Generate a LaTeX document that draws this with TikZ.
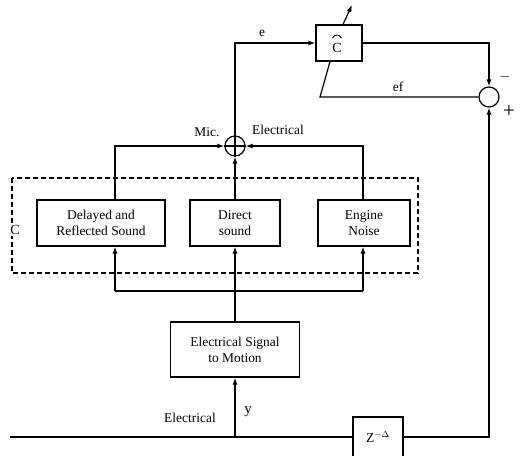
\documentclass[tikz,border=0pt]{standalone}
\usepackage{fontspec}
\setmainfont{Liberation Serif}
\usetikzlibrary{arrows.meta,calc}
\begin{document}
\begin{tikzpicture}[x=1bp,y=-1bp,line width=1.2bp,
  blk/.style={draw,rectangle,align=center,inner sep=0pt,font=\fontsize{13.5}{16}\selectfont},
  sumc/.style={draw,circle,minimum size=20bp,inner sep=0pt},
  lbl/.style={font=\fontsize{13.5}{15}\selectfont,inner sep=1pt},
  arr/.style={-{Latex[length=7bp,width=5bp]}}]
\useasboundingbox (0,0) rectangle (525,456);
% dashed plant box
\draw[dashed,dash pattern=on 5bp off 3bp] (12,178) rectangle (418,273);
\node[lbl,fill=white,font=\fontsize{14}{16}\selectfont] (clab) at (15,230) {C};
% blocks
\node[blk,minimum width=128bp,minimum height=46bp] (delay) at (101,223) {Delayed and\\Reflected Sound};
\node[blk,minimum width=90bp,minimum height=46bp] (direct) at (235,223) {Direct\\sound};
\node[blk,minimum width=92bp,minimum height=46bp] (engine) at (364,223) {Engine\\Noise};
\node[blk,minimum width=129bp,minimum height=55bp] (sig) at (235,349.5) {Electrical Signal\\to Motion};
\node[blk,minimum width=46bp,minimum height=36bp] (chat) at (339,43) {};
\node[lbl,font=\fontsize{14}{16}\selectfont] (chatC) at (337,48) {C};
\draw[line width=0.9bp] (332.5,38) .. controls (334.5,34) and (339.5,34) .. (341.5,38);
\node[blk,minimum width=50bp,minimum height=40bp] (zbox) at (378,437) {};
\node[lbl,font=\fontsize{13.5}{16}\selectfont] (zlab) at (378,437) {Z\textsuperscript{$-\Delta$}};
% summing junctions
\node[sumc] (s1) at (235,146) {};
\draw (s1.north) -- (s1.south) (s1.west) -- (s1.east);
\node[sumc] (s2) at (489,97) {};
% coordinates
\coordinate (tapL) at (115,291);
\coordinate (tapR) at (363,291);
\coordinate (inL) at (10,437);
\coordinate (efk) at (320,97);
\coordinate (adj) at (352,5);
% connectors into sum 1
\draw[arr] (tapL |- delay.north) |- (s1.west);
\draw[arr] (tapR |- engine.north) |- (s1.east);
\draw[arr] (direct.north) -- (s1.south);
% distribution bus
\draw (tapL) -- (tapR);
\draw[arr] (tapL) -- (tapL |- delay.south);
\draw[arr] (tapR) -- (tapR |- engine.south);
\draw[arr] (sig.north) -- (direct.south);
% upper loop
\draw[arr] (s1.north) |- (chat.west);
\draw[arr] (chat.east) -| (s2.north);
\draw (s2.west) -- (efk) -- ([xshift=-9bp]chat.south);
\draw[arr] ([xshift=4bp]chat.north) -- (adj);
% bottom
\draw (inL) -- (zbox.west);
\draw[arr] (inL -| sig.south) -- (sig.south);
\draw[arr] (zbox.east) -| (s2.south);
% labels
\node[lbl] (le) at (262,33) {e};
\node[lbl] (lef) at (398,87) {ef};
\node[lbl,font=\fontsize{15}{17}\selectfont] (lminus) at (505,77) {$-$};
\node[lbl,font=\fontsize{21}{23}\selectfont] (lplus) at (509,112) {+};
\node[lbl] (lmic) at (207,132) {Mic.};
\node[lbl] (lel1) at (278,130) {Electrical};
\node[lbl] (lel2) at (190,418) {Electrical};
\node[lbl,font=\fontsize{15}{17}\selectfont] (ly) at (248,412) {y};
\end{tikzpicture}
\end{document}
